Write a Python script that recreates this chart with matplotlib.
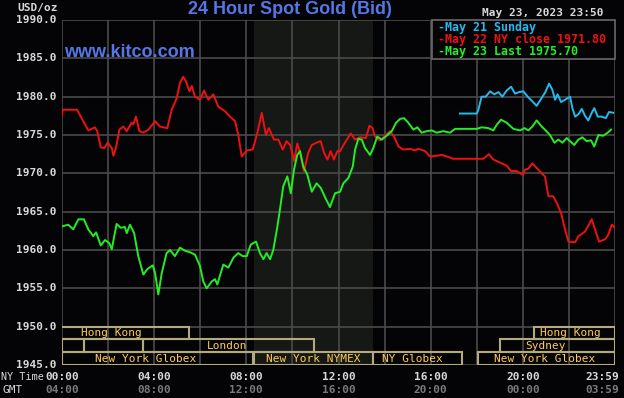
import matplotlib
matplotlib.use("Agg")
import matplotlib.pyplot as plt
from matplotlib.patches import Rectangle
import matplotlib.transforms as mtransforms

# ---------------- data ----------------
may22_hours = [0.0, 0.03, 0.2, 0.65, 0.85, 1.14, 1.43, 1.53, 1.68, 1.84, 1.98, 2.16, 2.23, 2.34, 2.49,
               2.66, 2.81, 3.02, 3.1, 3.21, 3.36, 3.53, 3.75, 4.04, 4.25, 4.57, 4.76, 4.98, 5.12, 5.26,
               5.38, 5.53, 5.63, 5.77, 5.99, 6.16, 6.35, 6.57, 6.78, 7.07, 7.29, 7.51, 7.65, 7.8, 8.02,
               8.28, 8.48, 8.67, 8.85, 8.98, 9.2, 9.39, 9.58, 9.75, 9.9, 10.08, 10.21, 10.33, 10.5, 10.69,
               10.84, 11.05, 11.23, 11.37, 11.52, 11.66, 11.8, 11.95, 12.07, 12.28, 12.53, 12.72, 12.93,
               13.19, 13.34, 13.48, 13.58, 13.8, 14.02, 14.24, 14.41, 14.6, 14.81, 15.1, 15.32, 15.46,
               15.76, 15.97, 16.26, 16.48, 16.7, 16.98, 17.56, 18.29, 18.53, 18.72, 19.01, 19.3, 19.49,
               19.73, 20.0, 20.1, 20.24, 20.41, 20.6, 20.82, 20.96, 21.11, 21.32, 21.51, 21.66, 21.83,
               21.98, 22.27, 22.41, 22.7, 22.99, 23.13, 23.31, 23.57, 23.71, 23.86, 24.0]
may22_price = [1977.6, 1978.3, 1978.3, 1978.3, 1977.2, 1975.6, 1976.0, 1975.5, 1973.4, 1973.3, 1974.0,
               1973.3, 1972.3, 1973.3, 1975.7, 1976.1, 1975.5, 1976.6, 1976.4, 1977.4, 1975.5, 1975.3,
               1975.7, 1976.8, 1976.1, 1975.9, 1978.3, 1979.8, 1981.8, 1982.6, 1982.0, 1980.7, 1981.4,
               1980.0, 1979.6, 1980.8, 1979.6, 1980.3, 1978.7, 1978.1, 1977.4, 1976.8, 1975.0, 1972.2,
               1973.0, 1973.1, 1975.3, 1977.9, 1975.0, 1975.9, 1974.4, 1974.4, 1973.1, 1974.2, 1973.7,
               1971.6, 1973.9, 1972.7, 1970.3, 1972.7, 1973.7, 1974.0, 1974.2, 1972.7, 1971.8, 1972.9,
               1971.8, 1972.9, 1972.9, 1974.0, 1975.2, 1974.4, 1974.7, 1974.6, 1976.2, 1975.9, 1974.8,
               1974.3, 1974.9, 1975.5, 1974.8, 1973.5, 1973.1, 1973.2, 1973.0, 1973.2, 1972.9, 1972.2,
               1972.3, 1972.4, 1972.2, 1971.9, 1971.9, 1971.9, 1972.5, 1971.8, 1971.4, 1971.0, 1970.3,
               1970.3, 1969.8, 1970.5, 1970.6, 1971.3, 1970.7, 1970.0, 1969.6, 1967.0, 1967.0, 1965.9,
               1964.8, 1962.7, 1961.1, 1961.0, 1961.8, 1962.4, 1964.0, 1962.7, 1961.1, 1961.4, 1962.0,
               1963.3, 1962.9]

may23_hours = [0.03, 0.27, 0.49, 0.71, 0.95, 1.14, 1.36, 1.48, 1.68, 1.87, 2.05, 2.16, 2.37, 2.55, 2.73,
               2.81, 2.95, 3.13, 3.31, 3.53, 3.7, 3.94, 4.04, 4.18, 4.33, 4.54, 4.69, 4.9, 5.12, 5.34,
               5.56, 5.77, 5.99, 6.13, 6.28, 6.5, 6.64, 6.74, 7.0, 7.22, 7.44, 7.65, 7.84, 8.02, 8.19,
               8.42, 8.59, 8.74, 8.88, 9.03, 9.17, 9.35, 9.46, 9.6, 9.78, 9.93, 10.07, 10.21, 10.33,
               10.47, 10.65, 10.84, 11.05, 11.23, 11.46, 11.63, 11.85, 12.07, 12.21, 12.43, 12.62, 12.72,
               12.86, 13.01, 13.15, 13.37, 13.51, 13.68, 13.88, 14.09, 14.31, 14.5, 14.67, 14.84, 15.03,
               15.25, 15.42, 15.61, 15.83, 16.05, 16.26, 16.55, 16.84, 17.06, 17.56, 18.0, 18.21, 18.5,
               18.72, 18.86, 19.05, 19.3, 19.59, 19.88, 20.07, 20.24, 20.41, 20.6, 20.82, 20.99, 21.18,
               21.37, 21.54, 21.72, 21.9, 22.12, 22.23, 22.41, 22.58, 22.77, 22.96, 23.1, 23.28, 23.49,
               23.68, 23.83]
may23_price = [1963.1, 1963.3, 1962.7, 1964.0, 1964.0, 1962.7, 1961.8, 1962.3, 1960.6, 1961.3, 1960.9,
               1960.1, 1963.4, 1962.9, 1963.0, 1962.2, 1963.3, 1962.2, 1959.2, 1956.8, 1957.5, 1958.0,
               1957.0, 1954.2, 1957.0, 1959.6, 1960.0, 1959.2, 1960.3, 1959.9, 1959.7, 1959.4, 1957.9,
               1955.9, 1955.0, 1955.9, 1956.2, 1955.5, 1958.1, 1957.7, 1959.0, 1959.6, 1959.2, 1959.2,
               1960.7, 1961.1, 1959.6, 1958.8, 1959.6, 1958.8, 1960.0, 1963.1, 1965.3, 1968.3, 1969.6,
               1967.4, 1970.5, 1972.4, 1972.9, 1970.9, 1969.8, 1967.6, 1968.7, 1968.1, 1966.6, 1965.6,
               1967.4, 1967.6, 1968.7, 1969.4, 1970.9, 1973.1, 1974.5, 1974.4, 1973.3, 1972.4, 1973.3,
               1974.8, 1974.4, 1974.9, 1975.5, 1976.6, 1977.1, 1977.2, 1976.6, 1975.7, 1976.0, 1975.3,
               1975.5, 1975.6, 1975.3, 1975.5, 1975.3, 1975.8, 1975.8, 1975.8, 1976.0, 1975.9, 1975.6,
               1976.3, 1977.0, 1976.6, 1975.8, 1975.6, 1975.9, 1975.6, 1976.1, 1976.9, 1976.1, 1975.6,
               1975.0, 1974.0, 1974.4, 1974.0, 1974.6, 1974.0, 1973.7, 1974.4, 1974.7, 1974.2, 1974.3,
               1973.5, 1975.0, 1974.9, 1975.3, 1975.7]

may21_hours = [17.27, 18.0, 18.07, 18.21, 18.39, 18.58, 18.76, 18.94, 19.11, 19.3, 19.49, 19.66, 19.84,
               20.02, 20.21, 20.41, 20.6, 20.79, 20.96, 21.14, 21.28, 21.4, 21.51, 21.66, 21.83, 22.05,
               22.15, 22.27, 22.41, 22.56, 22.7, 22.84, 22.99, 23.1, 23.25, 23.42, 23.6, 23.74, 23.92]
may21_price = [1977.8, 1977.8, 1978.3, 1980.0, 1980.0, 1980.7, 1980.3, 1980.6, 1980.0, 1980.8, 1981.3,
               1980.4, 1980.6, 1980.7, 1980.0, 1979.4, 1978.8, 1979.7, 1980.5, 1981.7, 1980.9, 1979.6,
               1980.3, 1979.3, 1979.6, 1980.0, 1978.5, 1977.4, 1977.7, 1978.4, 1977.5, 1976.9, 1977.9,
               1978.5, 1977.4, 1977.4, 1977.2, 1978.0, 1977.9]

legend_labels = ["May 21 Sunday", "May 22 NY close 1971.80", "May 23 Last 1975.70"]
y_ticks = [1945, 1950, 1955, 1960, 1965, 1970, 1975, 1980, 1985, 1990]
ny_ticks = [0, 4, 8, 12, 16, 20, 24]
ny_labels = ["00:00", "04:00", "08:00", "12:00", "16:00", "20:00", "23:59"]
gmt_labels = ["04:00", "08:00", "12:00", "16:00", "20:00", "00:00", "03:59"]

# sessions: (row, start hour, end hour, label, label hour)
sessions = [
    (0, -1.0, 5.5, "Hong Kong", 2.13),
    (0, 20.5, 24.0, "Hong Kong", 22.05),
    (1, 0.0, 0.95, "", 0),
    (1, 0.95, 3.5, "", 0),
    (1, 3.5, 10.95, "London", 7.18),
    (1, 19.0, 24.0, "Sydney", 20.98),
    (2, 0.0, 8.3, "New York Globex", 3.65),
    (2, 8.33, 13.5, "New York NYMEX", 10.9),
    (2, 13.5, 17.35, "NY Globex", 15.2),
    (2, 18.05, 24.0, "New York Globex", 20.96),
]
nymex_open, nymex_close = 8.333, 13.5

# ---------------- style ----------------
BG = "#040407"
GRID = "#4a4a4a"
RED = "#ee1111"
GREEN = "#22ee22"
CYAN = "#22bbee"
BLUE = "#5577e6"
BOXC = "#b3ab7d"
LABC = "#ffcc55"
MONO = "DejaVu Sans Mono"

fig = plt.figure(figsize=(6.24, 3.98), dpi=100, facecolor=BG)
ax = fig.add_axes([62 / 624, 33 / 398, 553 / 624, 345 / 398])
ax.set_facecolor(BG)
ax.set_xlim(0, 24)
ax.set_ylim(1945, 1990)

ax.axvspan(nymex_open, nymex_close, color="#161815", zorder=0, lw=0)

for y in y_ticks:
    ax.axhline(y, color=GRID, lw=1.2, zorder=1)
for x in range(0, 25, 2):
    ax.axvline(x, color=GRID, lw=1.2, zorder=1)

for s in ax.spines.values():
    s.set_visible(False)
ax.set_xticks([])
ax.set_yticks([])

# session boxes
row_edges = [(1948.33, 1950.0), (1946.67, 1948.33), (1945.0, 1946.67)]
for row, x0, x1, lab, lx in sessions:
    y0, y1 = row_edges[row]
    ax.add_patch(Rectangle((x0, y0), x1 - x0, y1 - y0, fill=False, ec=BOXC, lw=1.5,
                           zorder=2, clip_on=True))
    if lab:
        ax.text(lx, (y0 + y1) / 2, lab, color=LABC, fontsize=8, family=MONO,
                ha="center", va="center", zorder=3)

ax.plot(may22_hours, may22_price, color=RED, lw=1.4, zorder=4)
ax.plot(may23_hours, may23_price, color=GREEN, lw=1.4, zorder=5)
ax.plot(may21_hours, may21_price, color=CYAN, lw=1.4, zorder=4)

# y tick labels
for y in y_ticks:
    ax.text(-5 / 553 * 24, y, f"{y:.1f}", color="#d8d8d8", fontsize=8, family=MONO,
            weight="bold", ha="right", va="center", clip_on=False)

trans = mtransforms.blended_transform_factory(ax.transData, fig.transFigure)
for h, l1, l2 in zip(ny_ticks, ny_labels, gmt_labels):
    ha = "center" if h < 24 else "right"
    xx = h if h < 24 else 24.2
    ax.text(xx, 1 - 377 / 398, l1, color="#d8d8d8", fontsize=8, family=MONO, weight="bold",
            ha=ha, va="center", transform=trans, clip_on=False)
    ax.text(xx, 1 - 390 / 398, l2, color="#7a7a7a", fontsize=8, family=MONO, weight="bold",
            ha=ha, va="center", transform=trans, clip_on=False)
fig.text(1 / 624, 1 - 377 / 398, "NY Time", color="#d8d8d8", fontsize=7.3, family=MONO,
         ha="left", va="center")
fig.text(23 / 624, 1 - 390 / 398, "GMT", color="#d8d8d8", fontsize=8, family=MONO,
         ha="right", va="center")

fig.text(17 / 624, 1 - 8 / 398, "USD/oz", color="#d8d8d8", fontsize=8, family=MONO,
         weight="bold", ha="left", va="center")
fig.text(290 / 624, 1 - 10 / 398, "24 Hour Spot Gold (Bid)", color=BLUE, fontsize=13,
         family="Liberation Sans", weight="bold", ha="center", va="center")
fig.text(604 / 624, 1 - 13 / 398, "May 23, 2023 23:50", color="#d8d8d8", fontsize=8,
         family=MONO, weight="bold", ha="right", va="center")
ax.text(0.004, 0.905, "www.kitco.com", color=BLUE, fontsize=13, family="Liberation Sans",
        weight="bold", ha="left", va="center", transform=ax.transAxes, zorder=6)

# legend box
lx0 = (432 - 62) / 553
ly0 = (365 - 59) / 345
ax.add_patch(Rectangle((lx0, ly0), 1 - lx0, 1 - ly0, transform=ax.transAxes, fc=BG,
                       ec="#6a6a6a", lw=1.2, zorder=7, clip_on=False))
for i, (lab, c) in enumerate(zip(legend_labels, [CYAN, RED, GREEN])):
    yy = (365 - (27 + 12.5 * i)) / 345
    ax.text((438 - 62) / 553, yy, "-" + lab, color=c, fontsize=8.4, family=MONO, weight="bold",
            ha="left", va="center", transform=ax.transAxes, zorder=8)

fig.savefig("out.png", dpi=100, facecolor=BG)
